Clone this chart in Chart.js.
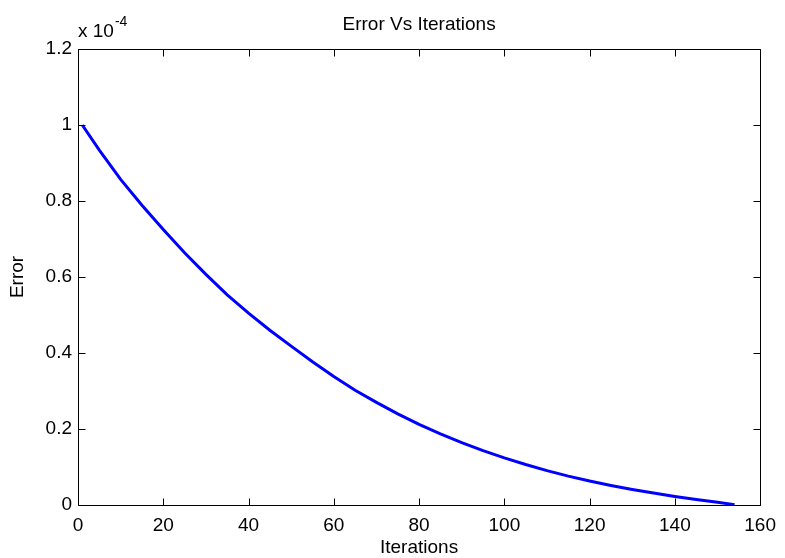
<!DOCTYPE html>
<html>
<head>
<meta charset="utf-8">
<script src="https://cdn.jsdelivr.net/npm/chart.js@4/dist/chart.umd.min.js"></script>
<style>
html,body{margin:0;padding:0;background:#fff;}
#c{display:block;}
</style>
</head>
<body>
<canvas id="c" width="785" height="558"></canvas>
<script>
// Data (error in units of 1e-4)
const iterations = [1, 5, 10, 15, 20, 25, 30, 35, 40, 45, 50, 55, 60, 65, 70, 75, 80, 85, 90, 95, 100, 105, 110, 115, 120, 125, 130, 135, 140, 145, 150, 154];
const errorValues = [1.0, 0.934, 0.857, 0.789, 0.725, 0.664, 0.607, 0.553, 0.505, 0.46, 0.418, 0.377, 0.338, 0.302, 0.27, 0.24, 0.212, 0.187, 0.164, 0.143, 0.124, 0.1065, 0.0905, 0.076, 0.063, 0.0515, 0.041, 0.0315, 0.0225, 0.0145, 0.007, 0.001];
const xTicks = [0, 20, 40, 60, 80, 100, 120, 140, 160];
const yTicks = [0, 0.2, 0.4, 0.6, 0.8, 1.0, 1.2];
const titleText = 'Error Vs Iterations';
const xLabel = 'Iterations';
const yLabel = 'Error';
const exponentText = '-4';

const FONT = 'Arial, "Liberation Sans", sans-serif';

const framePlugin = {
  id: 'frame',
  afterDraw(chart) {
    const ctx = chart.ctx;
    const a = chart.chartArea;
    const xs = chart.scales.x, ys = chart.scales.y;
    ctx.save();
    ctx.strokeStyle = '#000';
    ctx.lineWidth = 1;
    const L = Math.round(a.left) + 0.5, R = Math.round(a.right) + 0.5;
    const T = Math.round(a.top) + 0.5, B = Math.round(a.bottom) + 0.5;
    ctx.beginPath();
    ctx.rect(L, T, R - L, B - T);
    ctx.stroke();
    const tl = 7;
    ctx.beginPath();
    xTicks.forEach(v => {
      const px = Math.round(xs.getPixelForValue(v)) + 0.5;
      ctx.moveTo(px, B); ctx.lineTo(px, B - tl);
      ctx.moveTo(px, T); ctx.lineTo(px, T + tl);
    });
    yTicks.forEach(v => {
      const py = Math.round(ys.getPixelForValue(v)) + 0.5;
      ctx.moveTo(L, py); ctx.lineTo(L + tl, py);
      ctx.moveTo(R, py); ctx.lineTo(R - tl, py);
    });
    ctx.stroke();

    ctx.fillStyle = '#000';
    ctx.textAlign = 'center';
    ctx.textBaseline = 'middle';
    ctx.font = '19px ' + FONT;
    const cx = (a.left + a.right) / 2;
    ctx.fillText(titleText, cx, 25);
    ctx.fillText(xLabel, cx, 548);
    ctx.save();
    ctx.translate(18, (a.top + a.bottom) / 2);
    ctx.rotate(-Math.PI / 2);
    ctx.fillText(yLabel, 0, 0);
    ctx.restore();

    ctx.textAlign = 'left';
    ctx.font = '19px ' + FONT;
    ctx.fillText('x 10', a.left, 32);
    const w = ctx.measureText('x 10').width;
    ctx.font = '14px ' + FONT;
    ctx.fillText(exponentText, a.left + w + 1, 22);
    ctx.restore();
  }
};

new Chart(document.getElementById('c'), {
  type: 'line',
  data: {
    datasets: [{
      data: iterations.map((x, i) => ({x: x, y: errorValues[i]})),
      borderColor: '#0000ff',
      borderWidth: 3,
      pointRadius: 0,
      tension: 0,
      fill: false
    }]
  },
  options: {
    responsive: false,
    devicePixelRatio: 1,
    animation: false,
    layout: {padding: {left: 0, right: 20, top: 49, bottom: 0}},
    plugins: {legend: {display: false}, tooltip: {enabled: false}, title: {display: false}},
    scales: {
      x: {
        type: 'linear', min: 0, max: 160,
        afterBuildTicks: s => { s.ticks = xTicks.map(v => ({value: v})); },
        afterFit: s => { s.height = 53; },
        grid: {display: false, drawTicks: false},
        border: {display: false},
        ticks: {padding: 9, color: '#000', font: {family: FONT, size: 19}, maxRotation: 0, autoSkip: false}
      },
      y: {
        type: 'linear', min: 0, max: 1.2,
        afterBuildTicks: s => { s.ticks = yTicks.map(v => ({value: v})); },
        afterFit: s => { s.width = 78; },
        grid: {display: false, drawTicks: false},
        border: {display: false},
        ticks: {padding: 6, color: '#000', font: {family: FONT, size: 19}, autoSkip: false,
          callback: v => String(Number(v.toFixed(1)))}
      }
    }
  },
  plugins: [framePlugin]
});
</script>
</body>
</html>
